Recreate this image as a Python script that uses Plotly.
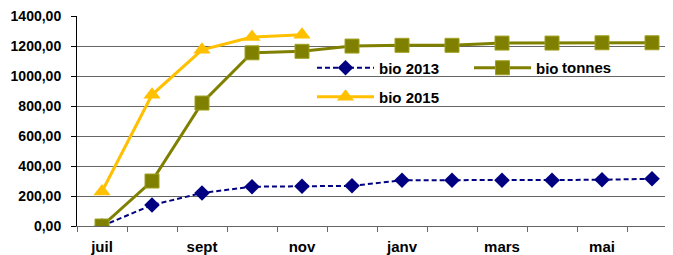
import plotly.graph_objects as go

months = ["juil", "aout", "sept", "oct", "nov", "dec", "janv", "fev", "mars", "avr", "mai", "juin"]
tick_labels = ["juil", "", "sept", "", "nov", "", "janv", "", "mars", "", "mai", ""]
y_ticks = [0, 200, 400, 600, 800, 1000, 1200, 1400]
bio_2013 = [0, 140, 220, 262, 265, 268, 305, 305, 305, 305, 308, 315]
bio_tonnes = [0, 300, 820, 1155, 1165, 1200, 1205, 1205, 1220, 1220, 1222, 1222]
bio_2015 = [230, 875, 1175, 1260, 1275]

# page body has an 8px margin; plot area in page coords: x 77..673, y 16..226
OFF = 8
PL, PR, PT, PB = 77, 673, 16, 226
W, H = 673, 255


def px(x):
    return (x - PL) / (PR - PL)


def py(y):
    return (PB - y) / (PB - PT)


BOLD = dict(family="Liberation Sans", color="black", weight="bold")

fig = go.Figure()
fig.add_trace(go.Scatter(
    x=months, y=bio_2013, name="bio 2013", mode="lines+markers", legend="legend",
    line=dict(color="#000080", width=2, dash="5px,3px"),
    marker=dict(symbol="diamond", size=12, color="#000080"),
))
fig.add_trace(go.Scatter(
    x=months, y=bio_tonnes, name="bio", mode="lines+markers", legend="legend",
    line=dict(color="#808000", width=3),
    marker=dict(symbol="square", size=14, color="#808000", line=dict(color="#a0a020", width=1)),
))
fig.add_trace(go.Scatter(
    x=months[:len(bio_2015)], y=bio_2015, name="bio 2015", mode="lines+markers", legend="legend2",
    line=dict(color="#FFC000", width=3),
    marker=dict(symbol="triangle-up", size=15, color="#FFC000"),
))

# white boxes hiding the gridlines behind the legend (between grid and traces)
fig.add_shape(type="rect", xref="paper", yref="paper", layer="between",
              x0=px(302), x1=px(615), y0=py(118), y1=py(57),
              fillcolor="white", line=dict(width=0))
fig.add_shape(type="rect", xref="paper", yref="paper", layer="between",
              x0=px(556), x1=px(680), y0=py(94), y1=py(57),
              fillcolor="white", line=dict(width=0))

fig.add_annotation(
    text="tonnes", xref="paper", yref="paper", x=px(560), y=py(67),
    xanchor="left", yanchor="middle", showarrow=False,
    font=dict(size=15, **BOLD),
)

leg_common = dict(
    orientation="h", xanchor="left", yanchor="middle", bgcolor="rgba(0,0,0,0)",
    font=dict(size=15, **BOLD), itemwidth=57, entrywidth=85, entrywidthmode="pixels",
)

fig.update_layout(
    width=W, height=H,
    margin=dict(l=PL - OFF, r=W - (PR - OFF), t=PT - OFF, b=H - (PB - OFF), autoexpand=False),
    paper_bgcolor="white", plot_bgcolor="white",
    separators=", ",
    font=dict(size=15, **BOLD),
    showlegend=True,
    legend=dict(x=px(312), y=py(68), **leg_common),
    legend2=dict(x=px(312), y=py(97), **leg_common),
    xaxis=dict(
        type="category", range=[-0.5, -0.5 + (PR - PL) / 50],
        tickvals=months, ticktext=tick_labels, tickson="boundaries",
        ticks="outside", ticklen=5, tickcolor="#666666",
        showline=True, linecolor="#666666", linewidth=1,
        showgrid=False, zeroline=False, ticklabelstandoff=7,
        tickfont=dict(size=15, **BOLD),
    ),
    yaxis=dict(
        range=[0, 1400.5], tickmode="array", tickvals=y_ticks, tickformat=".2f",
        ticks="outside", ticklen=5, tickcolor="black",
        showline=True, linecolor="black", linewidth=1,
        showgrid=True, gridcolor="#666666", gridwidth=1, zeroline=False,
        ticklabelstandoff=7, ticklabeloverflow="allow",
        tickfont=dict(size=14, **BOLD),
    ),
)

fig.write_html("out.html")
